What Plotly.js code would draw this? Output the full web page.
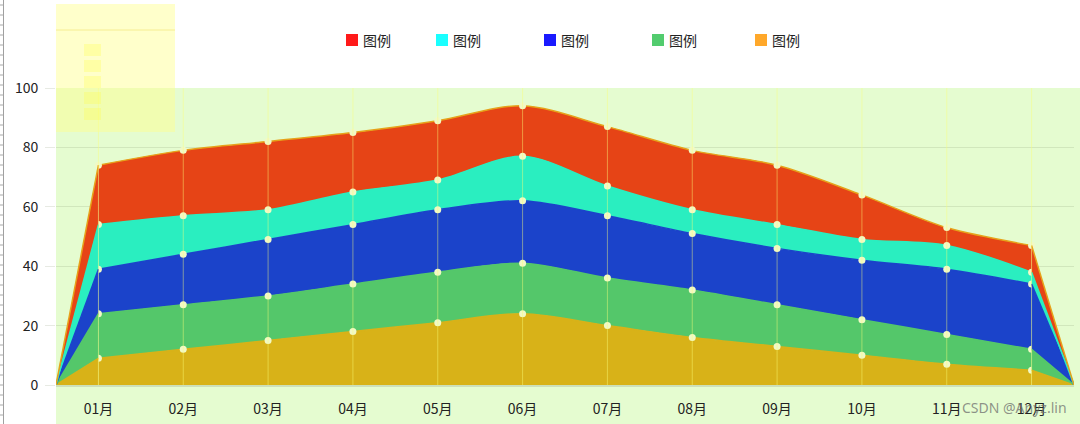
<!DOCTYPE html>
<html>
<head>
<meta charset="utf-8">
<script src="https://cdn.plot.ly/plotly-3.0.1.min.js"></script>
<style>
html,body{margin:0;padding:0;background:#fff;}
#chart{width:1080px;height:424px;}
</style>
</head>
<body>
<div id="chart"></div>
<script>
// ---- data ----
const months = ['01月','02月','03月','04月','05月','06月','07月','08月','09月','10月','11月','12月'];
const goldVals  = [9, 12, 15, 18, 21, 24, 20, 16, 13, 10, 7, 5];
const greenVals = [15, 15, 15, 16, 17, 17, 16, 16, 14, 12, 10, 7];
const blueVals  = [15, 17, 19, 20, 21, 21, 21, 19, 19, 20, 22, 22];
const cyanVals  = [15, 13, 10, 11, 10, 15, 10, 8, 8, 7, 8, 4];
const redVals   = [20, 22, 23, 20, 20, 17, 20, 20, 20, 15, 6, 9];
const legendLabels = ['图例','图例','图例','图例','图例'];
const legendColors = ['#ff1a1a','#1affff','#1a1aff','#52cc6e','#ffa82a'];
const watermark = 'CSDN @Anyz.lin';

// ---- styles ----
const seriesStyles = [
  {vals: goldVals,  fill: '#d8b218', line: '#d8b218'},
  {vals: greenVals, fill: '#54c76a', line: '#54c76a'},
  {vals: blueVals,  fill: '#1b43ca', line: '#1b43ca'},
  {vals: cyanVals,  fill: '#2aeec0', line: '#2aeec0'},
  {vals: redVals,   fill: '#e64416', line: '#e6a21a'}
];

const L = 56, R = 1074, T = 88, B = 385;
const W = R - L, H = B - T;
const px = x => (x - L) / W;
const py = y => (B - y) / H;

const n = months.length;
const xs = months.map((m, i) => i + 1);
const xStart = 0.5, xEnd = n + 0.5;

const traces = [];
seriesStyles.forEach(s => {
  traces.push({
    x: xs, y: s.vals, type: 'scatter', mode: 'lines+markers',
    stackgroup: 'main',
    line: {shape: 'spline', smoothing: 0.9, color: s.line, width: 1.5},
    fillcolor: s.fill,
    marker: {size: 7, color: '#f1f9c6', line: {width: 0}},
    hoverinfo: 'skip', showlegend: false
  });
});
seriesStyles.forEach(s => {
  traces.push({
    x: [xStart, 1], y: [0, s.vals[0]], type: 'scatter', mode: 'lines',
    stackgroup: 'left', line: {color: s.line, width: 1.5}, fillcolor: s.fill,
    hoverinfo: 'skip', showlegend: false
  });
});
seriesStyles.forEach(s => {
  traces.push({
    x: [n, xEnd], y: [s.vals[n-1], 0], type: 'scatter', mode: 'lines',
    stackgroup: 'right', line: {color: s.line, width: 1.5}, fillcolor: s.fill,
    hoverinfo: 'skip', showlegend: false
  });
});

const shapes = [];
// green background, extends below the axis
shapes.push({type:'rect', xref:'paper', yref:'paper', x0: 0, x1: px(1080), y0: py(424), y1: 1,
  fillcolor:'#e5fcd0', line:{width:0}, layer:'below'});
// vertical month lines above traces
xs.forEach(x => {
  shapes.push({type:'line', xref:'x', yref:'paper', x0:x, x1:x, y0:0, y1:1,
    line:{color:'rgba(250,255,120,0.45)', width:1}, layer:'above'});
});
// top-left yellow box
shapes.push({type:'rect', xref:'paper', yref:'paper', x0: px(56), x1: px(175), y0: py(132), y1: py(4),
  fillcolor:'rgba(255,255,140,0.45)', line:{width:0}, layer:'above'});
shapes.push({type:'line', xref:'paper', yref:'paper', x0: px(56), x1: px(175), y0: py(30), y1: py(30),
  line:{color:'rgba(240,225,110,0.6)', width:1}, layer:'above'});
for (let k = 0; k < 5; k++) {
  const y0 = 44 + k * 16;
  shapes.push({type:'rect', xref:'paper', yref:'paper', x0: px(84), x1: px(101), y0: py(y0 + 12), y1: py(y0),
    fillcolor:'rgba(255,255,80,0.3)', line:{width:0}, layer:'above'});
}
// left ruler artifact
shapes.push({type:'line', xref:'paper', yref:'paper', x0: px(3.5), x1: px(3.5), y0: py(424), y1: py(0),
  line:{color:'#a0a0a0', width:1}});
for (let y = 5; y < 424; y += 10) {
  shapes.push({type:'line', xref:'paper', yref:'paper', x0: px(0), x1: px(3.5), y0: py(y), y1: py(y),
    line:{color:'#a8a8a8', width:1}});
}
// legend squares
const legendX = [346, 436, 544, 652, 755];
const annotations = [];
legendColors.forEach((c, i) => {
  shapes.push({type:'rect', xref:'paper', yref:'paper', x0: px(legendX[i]), x1: px(legendX[i] + 12),
    y0: py(46), y1: py(34), fillcolor: c, line:{width:0}});
  annotations.push({xref:'paper', yref:'paper', x: px(legendX[i] + 15), y: py(40.5), xanchor:'left', yanchor:'middle',
    text: legendLabels[i], showarrow:false, font:{family:'Noto Sans CJK SC', size:14, color:'#222'}});
});
annotations.push({xref:'paper', yref:'paper', x: px(960), y: py(407.5), xanchor:'left', yanchor:'middle',
  text: watermark, showarrow:false, font:{family:'Noto Sans, DejaVu Sans', size:14, color:'rgba(110,110,110,0.75)'}});

const layout = {
  width: 1080, height: 424,
  margin: {l: L, r: 1080 - R, t: T, b: 424 - B, pad: 0},
  paper_bgcolor: '#ffffff', plot_bgcolor: 'rgba(0,0,0,0)',
  showlegend: false,
  xaxis: {
    range: [xStart, xEnd], tickvals: xs, ticktext: months,
    showgrid: false, zeroline: false,
    showline: true, linecolor: '#cde0ba', linewidth: 2,
    ticks: '', ticklabelstandoff: 10,
    tickfont: {family: 'Noto Sans CJK SC', size: 14, color: '#222'},
    fixedrange: true
  },
  yaxis: {
    range: [0, 100], tickvals: [0, 20, 40, 60, 80, 100],
    showgrid: true, gridcolor: 'rgba(120,140,100,0.18)', gridwidth: 1,
    zeroline: false, showline: false,
    ticks: 'outside', ticklen: 10, tickcolor: 'rgba(120,140,100,0.18)',
    ticklabelstandoff: 4,
    tickfont: {family: 'Noto Sans CJK SC', size: 14, color: '#222'},
    fixedrange: true
  },
  shapes: shapes,
  annotations: annotations
};

Plotly.newPlot('chart', traces, layout, {displayModeBar: false, staticPlot: true});
</script>
</body>
</html>
